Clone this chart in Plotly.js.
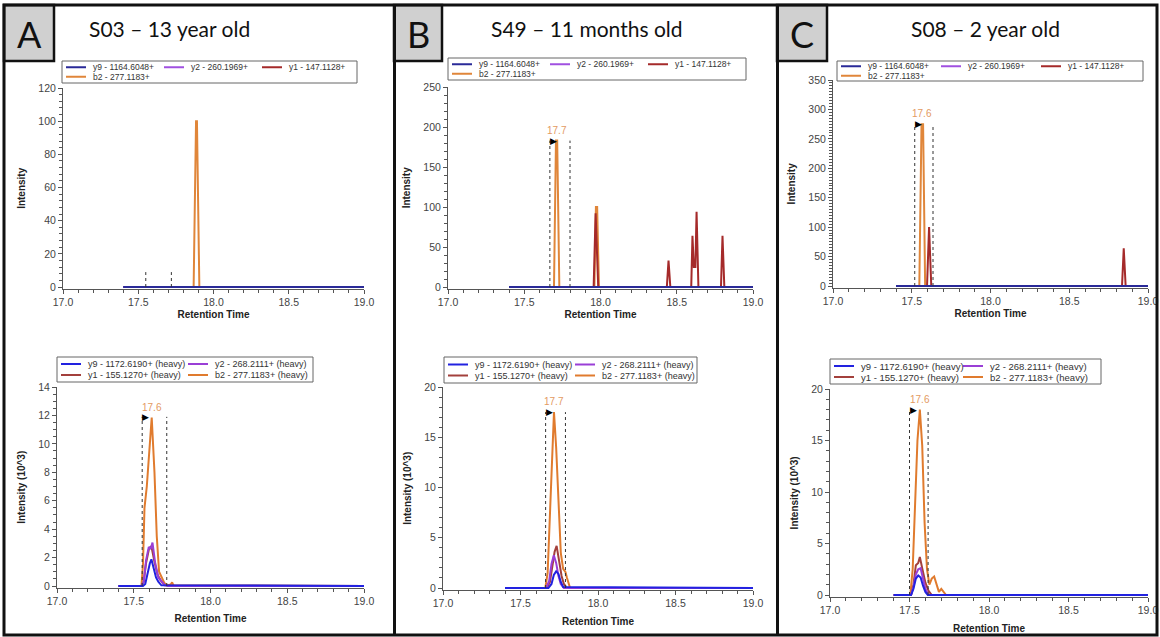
<!DOCTYPE html>
<html><head><meta charset="utf-8">
<script src="https://cdn.plot.ly/plotly-3.0.1.min.js"></script>
<style>html,body{margin:0;padding:0;background:#fff;}#chart{width:1160px;height:637px;}</style>
</head><body><div id="chart"></div>
<script>
const W = 1160, H = 637;
const FONT = 'Liberation Sans, Arial, sans-serif';
const TITLE_FONT = 'Lato, Open Sans, sans-serif';

// ---------- text ----------
const panelLetters = ['A', 'B', 'C'];
const panelTitles = ['S03 – 13 year old', 'S49 – 11 months old', 'S08 – 2 year old'];
const lightIons = ['y9 - 1164.6048+', 'y2 - 260.1969+', 'y1 - 147.1128+', 'b2 - 277.1183+'];
const heavyIons = ['y9 - 1172.6190+ (heavy)', 'y2 - 268.2111+ (heavy)', 'y1 - 155.1270+ (heavy)', 'b2 - 277.1183+ (heavy)'];
const lightColors = ['#2a2a98', '#a050e0', '#a52a2a', '#e0863a'];
const heavyColors = ['#2222e0', '#9a3fd6', '#a3403c', '#e07b2e'];
const xTitle = 'Retention Time';
const yTitles = ['Intensity', 'Intensity (10^3)', 'Intensity', 'Intensity (10^3)', 'Intensity', 'Intensity (10^3)'];

// ---------- y axes (top = light, bottom = heavy) ----------
const yMax   = [120, 14, 250, 20, 350, 20];
const yDtick = [20, 2, 50, 5, 50, 5];
const yMinor = [4, 0.5, 10, 1, 5, 1];

// ---------- flat traces ----------
const baseRT  = [17.4, 19.0];
const baseInt = [0, 0];

// ---------- Panel A: S03 ----------
const A_light_b2_rt  = [17.4, 17.868, 17.884, 17.89, 17.906, 19.0];
const A_light_b2_int = [0, 0, 100, 100, 0, 0];
const A_light_bounds = [17.55, 17.72];
const A_light_boundTop = 9;

const A_heavy_b2_rt  = [17.4, 17.55, 17.56, 17.57, 17.585, 17.6, 17.617, 17.635, 17.65, 17.665, 17.68, 17.7, 17.72, 17.74, 17.75, 17.76, 19.0];
const A_heavy_b2_int = [0, 0, 1.5, 5.5, 7.0, 9.5, 11.85, 8.0, 3.5, 1.0, 0.6, 0.2, 0.05, 0.1, 0.25, 0, 0];
const A_heavy_y1_rt  = [17.4, 17.55, 17.565, 17.58, 17.6, 17.615, 17.635, 17.655, 17.675, 17.7, 19.0];
const A_heavy_y1_int = [0, 0, 0.3, 1.6, 2.65, 2.8, 1.7, 0.8, 0.4, 0.05, 0];
const A_heavy_y2_rt  = [17.4, 17.55, 17.565, 17.58, 17.598, 17.61, 17.622, 17.64, 17.66, 17.68, 17.7, 17.72, 19.0];
const A_heavy_y2_int = [0, 0, 0.3, 1.8, 2.75, 2.6, 3.05, 1.6, 0.6, 0.35, 0.1, 0, 0];
const A_heavy_y9_rt  = [17.4, 17.56, 17.575, 17.59, 17.605, 17.615, 17.63, 17.645, 17.66, 17.68, 19.0];
const A_heavy_y9_int = [0, 0, 0.15, 0.9, 1.6, 1.88, 1.3, 0.6, 0.3, 0.05, 0];
const A_heavy_bounds = [17.555, 17.715];
const A_heavy_boundTop = 11.9;
const A_heavy_apex = [17.617, 11.85];
const A_heavy_apexLabel = '17.6';

// ---------- Panel B: S49 ----------
const B_light_b2_rt  = [17.4, 17.695, 17.708, 17.716, 17.73, 17.96, 17.97, 17.978, 17.99, 19.0];
const B_light_b2_int = [0, 0, 183, 183, 0, 0, 100, 100, 0, 0];
const B_light_y1_rt  = [17.4, 17.955, 17.968, 17.985, 18.435, 18.446, 18.458, 18.595, 18.603, 18.612, 18.622, 18.63, 18.642, 18.79, 18.8, 18.812, 19.0];
const B_light_y1_int = [0, 0, 92, 0, 0, 33, 0, 0, 64, 25, 25, 94, 0, 0, 64, 0, 0];
const B_light_bounds = [17.668, 17.80];
const B_light_boundTop = 183;
const B_light_apex = [17.712, 183];
const B_light_apexLabel = '17.7';

const B_heavy_b2_rt  = [17.4, 17.66, 17.675, 17.69, 17.705, 17.716, 17.73, 17.745, 17.76, 17.775, 17.79, 17.8, 17.81, 17.82, 19.0];
const B_heavy_b2_int = [0, 0, 1.5, 7.5, 15.0, 17.5, 14.0, 8.0, 3.5, 1.9, 1.6, 1.0, 0.4, 0, 0];
const B_heavy_y1_rt  = [17.4, 17.67, 17.69, 17.705, 17.72, 17.733, 17.75, 17.765, 17.78, 17.8, 19.0];
const B_heavy_y1_int = [0, 0, 0.6, 2.2, 3.6, 4.2, 2.8, 1.2, 0.4, 0, 0];
const B_heavy_y2_rt  = [17.4, 17.665, 17.685, 17.7, 17.715, 17.73, 17.745, 17.76, 17.78, 19.0];
const B_heavy_y2_int = [0, 0, 0.7, 2.4, 3.25, 2.5, 1.2, 0.4, 0, 0];
const B_heavy_y9_rt  = [17.4, 17.68, 17.7, 17.715, 17.73, 17.745, 17.76, 17.775, 19.0];
const B_heavy_y9_int = [0, 0, 0.4, 1.3, 1.65, 1.4, 0.6, 0.1, 0];
const B_heavy_bounds = [17.662, 17.79];
const B_heavy_boundTop = 17.5;
const B_heavy_apex = [17.716, 17.5];
const B_heavy_apexLabel = '17.7';

// ---------- Panel C: S08 ----------
const C_light_b2_rt  = [17.4, 17.548, 17.562, 17.572, 17.585, 19.0];
const C_light_b2_int = [0, 0, 275, 275, 0, 0];
const C_light_y1_rt  = [17.4, 17.597, 17.61, 17.624, 18.835, 18.846, 18.858, 19.0];
const C_light_y1_int = [0, 0, 100, 0, 0, 64, 0, 0];
const C_light_bounds = [17.519, 17.635];
const C_light_boundTop = 275;
const C_light_apex = [17.567, 275];
const C_light_apexLabel = '17.6';

const C_heavy_b2_rt  = [17.4, 17.505, 17.52, 17.535, 17.55, 17.565, 17.58, 17.595, 17.61, 17.625, 17.64, 17.655, 17.67, 17.685, 17.7, 17.715, 17.73, 19.0];
const C_heavy_b2_int = [0, 0, 2.5, 9.0, 15.0, 18.0, 14.5, 7.0, 2.5, 1.0, 1.6, 1.8, 1.0, 0.3, 0.6, 0.3, 0, 0];
const C_heavy_y1_rt  = [17.4, 17.51, 17.525, 17.54, 17.555, 17.565, 17.58, 17.6, 17.62, 17.64, 19.0];
const C_heavy_y1_int = [0, 0, 1.0, 2.9, 3.1, 3.7, 2.6, 1.2, 0.4, 0, 0];
const C_heavy_y2_rt  = [17.4, 17.51, 17.525, 17.54, 17.555, 17.57, 17.585, 17.6, 17.62, 19.0];
const C_heavy_y2_int = [0, 0, 0.8, 2.0, 2.5, 2.6, 1.6, 0.6, 0, 0];
const C_heavy_y9_rt  = [17.4, 17.51, 17.525, 17.54, 17.555, 17.57, 17.585, 17.6, 17.615, 19.0];
const C_heavy_y9_int = [0, 0, 0.6, 1.6, 1.9, 1.7, 0.9, 0.3, 0, 0];
const C_heavy_bounds = [17.50, 17.617];
const C_heavy_boundTop = 18;
const C_heavy_apex = [17.565, 18];
const C_heavy_apexLabel = '17.6';

// ---------- assemble (series order: y9, y2, y1, b2) ----------
const subplots = [
  {ions: lightIons, colors: lightColors, series: [[baseRT, baseInt], [baseRT, baseInt], [baseRT, baseInt], [A_light_b2_rt, A_light_b2_int]],
   bounds: A_light_bounds, boundTop: A_light_boundTop, apex: null, apexLabel: null},
  {ions: heavyIons, colors: heavyColors, series: [[A_heavy_y9_rt, A_heavy_y9_int], [A_heavy_y2_rt, A_heavy_y2_int], [A_heavy_y1_rt, A_heavy_y1_int], [A_heavy_b2_rt, A_heavy_b2_int]],
   bounds: A_heavy_bounds, boundTop: A_heavy_boundTop, apex: A_heavy_apex, apexLabel: A_heavy_apexLabel},
  {ions: lightIons, colors: lightColors, series: [[baseRT, baseInt], [baseRT, baseInt], [B_light_y1_rt, B_light_y1_int], [B_light_b2_rt, B_light_b2_int]],
   bounds: B_light_bounds, boundTop: B_light_boundTop, apex: B_light_apex, apexLabel: B_light_apexLabel},
  {ions: heavyIons, colors: heavyColors, series: [[B_heavy_y9_rt, B_heavy_y9_int], [B_heavy_y2_rt, B_heavy_y2_int], [B_heavy_y1_rt, B_heavy_y1_int], [B_heavy_b2_rt, B_heavy_b2_int]],
   bounds: B_heavy_bounds, boundTop: B_heavy_boundTop, apex: B_heavy_apex, apexLabel: B_heavy_apexLabel},
  {ions: lightIons, colors: lightColors, series: [[baseRT, baseInt], [baseRT, baseInt], [C_light_y1_rt, C_light_y1_int], [C_light_b2_rt, C_light_b2_int]],
   bounds: C_light_bounds, boundTop: C_light_boundTop, apex: C_light_apex, apexLabel: C_light_apexLabel},
  {ions: heavyIons, colors: heavyColors, series: [[C_heavy_y9_rt, C_heavy_y9_int], [C_heavy_y2_rt, C_heavy_y2_int], [C_heavy_y1_rt, C_heavy_y1_int], [C_heavy_b2_rt, C_heavy_b2_int]],
   bounds: C_heavy_bounds, boundTop: C_heavy_boundTop, apex: C_heavy_apex, apexLabel: C_heavy_apexLabel}
];

// ---------- geometry (pixels) ----------
const xPix = [[63, 364], [57, 364], [448, 753], [443, 753], [833, 1148], [830, 1148]];
const yPix = [[287, 88], [586, 387], [287, 87], [588, 387], [286, 80], [595, 389]]; // [pixel of 0, pixel of yMax]
const xTitleStandoff = [3, 8, 3, 9, 3, 9];
const legendBoxes = [[62, 61, 357, 83], [57, 357, 313, 382], [448, 58, 746, 80], [444, 357, 697, 383], [837, 61, 1143, 81], [830, 359, 1101, 384]];
const legendCols = [3, 2, 3, 2, 3, 2];
const legendColW = [98, 127, 98, 127, 100, 129];
const legendRowH = [9.5, 11, 9.5, 11, 9.5, 11];
const legendFont = [8.5, 9, 8.5, 9, 8.5, 9.5];
const letterBoxes = [[4, 54], [394, 442], [777, 827]];
const titleX = [170, 587, 985];

const PAD = 0.008;
const px = v => v / W;
const py = v => 1 - v / H;

const traces = [];
const shapes = [];
const annotations = [];
const layout = {
  width: W, height: H, margin: {l: 0, r: 0, t: 0, b: 0},
  paper_bgcolor: '#ffffff', plot_bgcolor: 'rgba(0,0,0,0)',
  showlegend: false, font: {family: FONT, color: '#333'},
  hovermode: false
};

subplots.forEach((sp, k) => {
  const s = k === 0 ? '' : String(k + 1);
  const xr = 'x' + s, yr = 'y' + s;
  const lw = 2;
  // traces drawn b2 first, y9 last (y9 on top)
  for (let i = 3; i >= 0; i--) {
    traces.push({
      type: 'scatter', mode: 'lines', name: sp.ions[i],
      x: sp.series[i][0], y: sp.series[i][1],
      xaxis: xr, yaxis: yr,
      line: {color: sp.colors[i], width: lw},
      showlegend: false, hoverinfo: 'skip'
    });
  }
  const hi = yMax[k];
  const lo = -hi * PAD;
  const p0 = yPix[k][0], pt = yPix[k][1];
  const scale = (p0 - pt) / hi;
  const pBottom = p0 + PAD * hi * scale;
  layout['xaxis' + s] = {
    domain: [px(xPix[k][0]), px(xPix[k][1])], anchor: yr,
    range: [17, 19], tickmode: 'linear', tick0: 17, dtick: 0.5, tickformat: '.1f',
    ticks: 'outside', ticklen: 4, tickwidth: 1, tickcolor: '#555',
    minor: {tickmode: 'linear', tick0: 17, dtick: 0.1, ticks: 'outside', ticklen: 3, tickwidth: 1, tickcolor: '#555'},
    showline: true, linecolor: '#555', linewidth: 1, showgrid: false, zeroline: false,
    tickfont: {family: FONT, size: 10.5, color: '#444'},
    title: {text: xTitle, font: {family: FONT, size: 10, color: '#222', weight: 'bold'}, standoff: xTitleStandoff[k]},
    fixedrange: true
  };
  layout['yaxis' + s] = {
    domain: [py(pBottom), py(pt)], anchor: xr,
    range: [lo, hi], tickmode: 'linear', tick0: 0, dtick: yDtick[k],
    ticks: 'outside', ticklen: 4, tickwidth: 1, tickcolor: '#555',
    minor: {tickmode: 'linear', tick0: 0, dtick: yMinor[k], ticks: 'outside', ticklen: 3, tickwidth: 1, tickcolor: '#555'},
    showline: true, linecolor: '#555', linewidth: 1, showgrid: false, zeroline: false,
    tickfont: {family: FONT, size: 10.5, color: '#444'},
    title: {text: yTitles[k], font: {family: FONT, size: 10, color: '#222', weight: 'bold'}, standoff: 10},
    fixedrange: true
  };
  // integration boundaries
  sp.bounds.forEach(b => {
    shapes.push({type: 'line', xref: xr, yref: yr, x0: b, x1: b, y0: 0, y1: sp.boundTop,
      line: {color: '#333', width: 1, dash: 'dot'}, layer: 'above'});
  });
  if (sp.apex) {
    annotations.push({xref: xr, yref: yr, x: sp.bounds[0], y: sp.boundTop, text: '▶', showarrow: false,
      xanchor: 'left', yanchor: 'middle', xshift: -2, yshift: 0,
      font: {family: 'DejaVu Sans', size: 9, color: '#000'}});
    annotations.push({xref: xr, yref: yr, x: sp.apex[0], y: sp.apex[1], text: sp.apexLabel, showarrow: false,
      xanchor: 'center', yanchor: 'bottom', yshift: 3,
      font: {family: FONT, size: 10, color: '#e39a62'}});
  }
  // legend box
  const lb = legendBoxes[k];
  shapes.push({type: 'rect', xref: 'paper', yref: 'paper', x0: px(lb[0]), x1: px(lb[2]), y0: py(lb[3]), y1: py(lb[1]),
    line: {color: '#666', width: 1}, fillcolor: '#ffffff', layer: 'above'});
  const nrows = Math.ceil(4 / legendCols[k]);
  const boxH = lb[3] - lb[1];
  const firstRow = lb[1] + (boxH - (nrows - 1) * legendRowH[k]) / 2;
  for (let i = 0; i < 4; i++) {
    const col = i % legendCols[k], row = Math.floor(i / legendCols[k]);
    const lx = lb[0] + 4 + col * legendColW[k];
    const ly = firstRow + row * legendRowH[k];
    shapes.push({type: 'line', xref: 'paper', yref: 'paper', x0: px(lx), x1: px(lx + 20), y0: py(ly), y1: py(ly),
      line: {color: sp.colors[i], width: 2}, layer: 'above'});
    annotations.push({xref: 'paper', yref: 'paper', x: px(lx + 25), y: py(ly), text: sp.ions[i], showarrow: false,
      xanchor: 'left', yanchor: 'middle', font: {family: FONT, size: legendFont[k], color: '#333'}});
  }
});

// ---------- frame, letter boxes, titles ----------
shapes.push({type: 'rect', xref: 'paper', yref: 'paper', x0: px(4), x1: px(1157), y0: py(635), y1: py(5),
  line: {color: '#111', width: 3}, layer: 'above'});
[394.5, 777.5].forEach(xv => shapes.push({type: 'line', xref: 'paper', yref: 'paper', x0: px(xv), x1: px(xv), y0: py(635), y1: py(5),
  line: {color: '#111', width: 3}, layer: 'above'}));
panelLetters.forEach((L, j) => {
  const bx = letterBoxes[j];
  shapes.push({type: 'rect', xref: 'paper', yref: 'paper', x0: px(bx[0]), x1: px(bx[1]), y0: py(61), y1: py(5),
    line: {color: '#111', width: 2.5}, fillcolor: '#d0d0d0', layer: 'below'});
  annotations.push({xref: 'paper', yref: 'paper', x: px((bx[0] + bx[1]) / 2), y: py(34), text: L, showarrow: false,
    xanchor: 'center', yanchor: 'middle', font: {family: TITLE_FONT, size: 36, color: '#111'}});
  annotations.push({xref: 'paper', yref: 'paper', x: px(titleX[j]), y: py(29), text: panelTitles[j], showarrow: false,
    xanchor: 'center', yanchor: 'middle', font: {family: TITLE_FONT, size: 21, color: '#111'}});
});

layout.shapes = shapes;
layout.annotations = annotations;

Plotly.newPlot('chart', traces, layout, {displayModeBar: false, staticPlot: true});
</script></body></html>
